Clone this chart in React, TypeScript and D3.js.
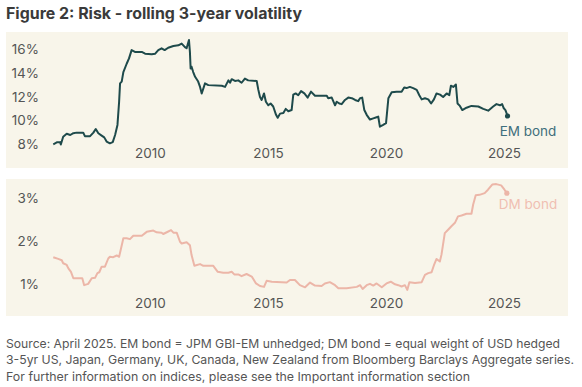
import React from 'react';
import * as d3 from 'd3';

// rolling 3-year volatility (decimal years, %)
const emYears = [
  2005.88, 2006.03, 2006.17, 2006.2, 2006.3, 2006.45, 2006.6, 2006.73, 2006.87, 2007.15,
  2007.22, 2007.44, 2007.58, 2007.68, 2007.79, 2007.93, 2008.04, 2008.14, 2008.28, 2008.4,
  2008.5, 2008.6, 2008.67, 2008.71, 2008.78, 2008.85, 2008.99, 2009.09, 2009.2, 2009.34,
  2009.63, 2009.77, 2010.05, 2010.2, 2010.33, 2010.47, 2010.6, 2010.75, 2010.97, 2011.18,
  2011.32, 2011.46, 2011.53, 2011.63, 2011.67, 2011.7, 2011.74, 2011.81, 2011.89, 2012.02,
  2012.1, 2012.17, 2012.31, 2012.45, 2013.02, 2013.16, 2013.3, 2013.37, 2013.44, 2013.58,
  2013.72, 2013.86, 2014.0, 2014.14, 2014.5, 2014.57, 2014.64, 2014.71, 2014.81, 2014.89,
  2014.99, 2015.09, 2015.2, 2015.32, 2015.39, 2015.49, 2015.63, 2015.73, 2015.84, 2015.98,
  2016.05, 2016.15, 2016.26, 2016.38, 2016.52, 2016.66, 2016.8, 2016.97, 2017.47, 2017.53,
  2017.68, 2017.82, 2017.89, 2018.0, 2018.1, 2018.24, 2018.38, 2018.53, 2018.67, 2018.8,
  2018.88, 2018.97, 2019.06, 2019.16, 2019.3, 2019.44, 2019.58, 2019.65, 2019.72, 2019.86,
  2019.98, 2020.08, 2020.22, 2020.43, 2020.64, 2020.75, 2020.85, 2020.99, 2021.13, 2021.28,
  2021.39, 2021.49, 2021.63, 2021.77, 2021.89, 2022.01, 2022.12, 2022.27, 2022.4, 2022.55,
  2022.66, 2022.73, 2022.83, 2022.94, 2023.01, 2023.11, 2023.21, 2023.39, 2023.6, 2023.89,
  2024.1, 2024.31, 2024.52, 2024.66, 2024.81, 2024.9, 2024.97, 2025.04, 2025.13,
];
const emValues = [
  8.02, 8.18, 8.2, 8.0, 8.65, 8.9, 8.8, 8.95, 9.0, 9.0,
  8.7, 8.7, 9.0, 9.3, 8.95, 8.75, 8.6, 8.25, 8.1, 8.2,
  8.8, 9.65, 11.6, 13.15, 13.3, 14.1, 14.8, 15.25, 15.95, 15.8,
  15.8, 15.65, 15.6, 15.65, 15.95, 16.1, 15.95, 16.15, 16.3, 16.35,
  16.5, 16.2, 16.1, 16.8, 15.8, 14.4, 14.55, 14.1, 13.7, 13.3,
  12.85, 12.3, 13.15, 13.0, 12.95, 12.85, 13.4, 13.2, 13.5, 13.35,
  13.4, 13.2, 13.55, 13.4, 13.35, 12.6, 12.0, 11.75, 12.3, 11.6,
  11.3, 11.45, 11.2, 10.5, 10.25, 10.6, 10.65, 11.0, 10.8, 10.9,
  12.2, 12.3, 12.15, 12.5, 12.3, 11.95, 12.45, 12.1, 12.1, 11.9,
  11.95, 11.3, 11.6, 11.45, 11.4, 11.75, 11.95, 11.9, 11.75, 11.65,
  11.9, 11.95, 10.9, 10.5, 10.1, 10.2, 10.3, 10.35, 9.5, 9.65,
  9.8, 11.9, 12.4, 12.45, 12.45, 12.8, 12.75, 12.85, 12.75, 12.6,
  12.15, 11.8, 11.9, 11.8, 11.45, 11.8, 12.3, 12.2, 12.0, 12.3,
  12.15, 12.95, 12.85, 13.05, 11.45, 11.25, 10.9, 11.1, 11.25, 11.2,
  11.0, 10.85, 11.2, 11.4, 11.3, 11.4, 11.05, 10.9, 10.4,
];

const dmYears = [
  2005.88, 2006.09, 2006.24, 2006.3, 2006.45, 2006.52, 2006.63, 2006.73, 2007.11, 2007.19,
  2007.36, 2007.51, 2007.65, 2007.75, 2007.83, 2007.93, 2008.07, 2008.21, 2008.28, 2008.42,
  2008.57, 2008.67, 2008.85, 2008.99, 2009.13, 2009.27, 2009.63, 2009.84, 2010.12, 2010.26,
  2010.47, 2010.54, 2010.69, 2010.87, 2010.97, 2011.11, 2011.25, 2011.32, 2011.53, 2011.67,
  2011.74, 2011.86, 2012.1, 2012.24, 2012.66, 2012.85, 2013.08, 2013.3, 2013.44, 2013.55,
  2013.72, 2013.86, 2014.07, 2014.29, 2014.47, 2014.64, 2014.81, 2014.92, 2015.14, 2015.77,
  2015.91, 2016.12, 2016.33, 2016.55, 2016.76, 2016.97, 2017.25, 2017.39, 2017.6, 2017.82,
  2017.96, 2018.31, 2018.74, 2018.88, 2018.99, 2019.16, 2019.3, 2019.44, 2019.58, 2019.8,
  2020.0, 2020.18, 2020.36, 2020.5, 2020.64, 2020.78, 2020.88, 2020.97, 2021.21, 2021.49,
  2021.63, 2021.77, 2021.91, 2022.02, 2022.12, 2022.26, 2022.33, 2022.47, 2022.61, 2022.75,
  2022.9, 2023.03, 2023.18, 2023.39, 2023.6, 2023.67, 2023.78, 2023.94, 2024.16, 2024.3,
  2024.48, 2024.65, 2024.86, 2025.0, 2025.1,
];
const dmValues = [
  1.63, 1.59, 1.56, 1.49, 1.45, 1.37, 1.29, 1.14, 1.14, 0.98,
  1.01, 1.14, 1.15, 1.26, 1.28, 1.41, 1.41, 1.6, 1.64, 1.63,
  1.67, 1.64, 2.07, 2.07, 2.05, 2.13, 2.13, 2.22, 2.25, 2.21,
  2.2, 2.17, 2.21, 2.26, 2.2, 2.2, 1.99, 1.95, 1.98, 1.91,
  1.68, 1.43, 1.47, 1.43, 1.43, 1.29, 1.27, 1.27, 1.29, 1.23,
  1.23, 1.19, 1.24, 1.18, 1.02, 0.96, 0.94, 1.08, 1.06, 1.04,
  1.1, 1.1, 0.98, 0.93, 1.04, 0.97, 0.96, 1.02, 1.05, 0.98,
  0.91, 0.91, 0.94, 0.98, 0.89, 0.98, 1.01, 0.97, 1.02, 0.93,
  1.02, 1.06, 1.0, 0.98, 0.95, 0.98, 0.87, 1.05, 1.03, 1.05,
  1.22, 1.26, 1.28, 1.46, 1.59, 1.53, 1.69, 2.19, 2.27, 2.35,
  2.43, 2.58, 2.6, 2.64, 2.64, 2.85, 3.07, 3.08, 3.12, 3.2,
  3.32, 3.33, 3.3, 3.2, 3.12,
];

const xTicks = [2010, 2015, 2020, 2025];
const emTicks = [8, 10, 12, 14, 16];
const dmTicks = [1, 2, 3];

const title = 'Figure 2: Risk - rolling 3-year volatility';
const notes = [
  'Source: April 2025. EM bond = JPM GBI-EM unhedged; DM bond = equal weight of USD hedged',
  '3-5yr US, Japan, Germany, UK, Canada, New Zealand from Bloomberg Barclays Aggregate series.',
  'For further information on indices, please see the Important information section',
];

const FONT = 'Inter, "Noto Sans", sans-serif';
const BG = '#f8f5ea';
const EM_COLOR = '#1e4a4b';
const DM_COLOR = '#ecb6a8';
const TICK = '#555555';

type Pt = [number, number];

const Panel: React.FC<{
  top: number; height: number; pts: Pt[]; domain: [number, number];
  yTop: number; yBottom: number; ticks: number[]; color: string;
  label: string; labelColor: string; labelY: number; axisY: number;
}> = ({ top, height, pts, domain, yTop, yBottom, ticks, color, label, labelColor, labelY, axisY }) => {
  const x = d3.scaleLinear().domain([2010, 2025]).range([150.5, 504.5]);
  const y = d3.scaleLinear().domain(domain).range([yBottom, yTop]);
  const line = d3.line<Pt>().x(d => x(d[0])).y(d => y(d[1]));
  const last = pts[pts.length - 1];
  return (
    <g>
      <rect x={6} y={top} width={562} height={height} fill={BG} />
      {ticks.map(t => (
        <text key={t} x={39} y={y(t)} dy="0.35em" textAnchor="end" fontSize={13.5} fill={TICK} fontFamily={FONT}>
          {t}%
        </text>
      ))}
      {xTicks.map(t => (
        <text key={t} x={x(t)} y={axisY} textAnchor="middle" fontSize={13.5} fill={TICK} fontFamily={FONT}>
          {t}
        </text>
      ))}
      <path d={line(pts) || ''} fill="none" stroke={color} strokeWidth={2} strokeLinejoin="round" />
      <circle cx={x(last[0])} cy={y(last[1])} r={2.6} fill={color} />
      <text x={528} y={labelY} dy="0.35em" textAnchor="middle" fontSize={13.5} fill={labelColor} fontFamily={FONT}>
        {label}
      </text>
    </g>
  );
};

export default function App() {
  const emPts: Pt[] = emYears.map((t, i) => [t, emValues[i]]);
  const dmPts: Pt[] = dmYears.map((t, i) => [t, dmValues[i]]);
  return (
    <svg width={582} height={387} style={{ position: 'absolute', left: 0, top: 0, background: '#fff' }}>
      <text x={6} y={19} fontSize={15.5} fontWeight={700} fill="#3a3a3a" fontFamily={FONT}
        textLength={296} lengthAdjust="spacingAndGlyphs">
        {title}
      </text>
      <Panel top={32} height={136} pts={emPts} domain={[8, 16]} yTop={49.5} yBottom={144.5}
        ticks={emTicks} color={EM_COLOR} label="EM bond" labelColor="#3f6f7c" labelY={131} axisY={158} />
      <Panel top={179} height={137} pts={dmPts} domain={[1, 3]} yTop={198.3} yBottom={284.3}
        ticks={dmTicks} color={DM_COLOR} label="DM bond" labelColor="#f0bfb2" labelY={204.5} axisY={308} />
      {notes.map((n, i) => (
        <text key={i} x={6} y={347.5 + i * 16.5} fontSize={12} fill="#555555" fontFamily={FONT}
          textLength={[554, 568, 464][i]} lengthAdjust="spacingAndGlyphs">
          {n}
        </text>
      ))}
    </svg>
  );
}
